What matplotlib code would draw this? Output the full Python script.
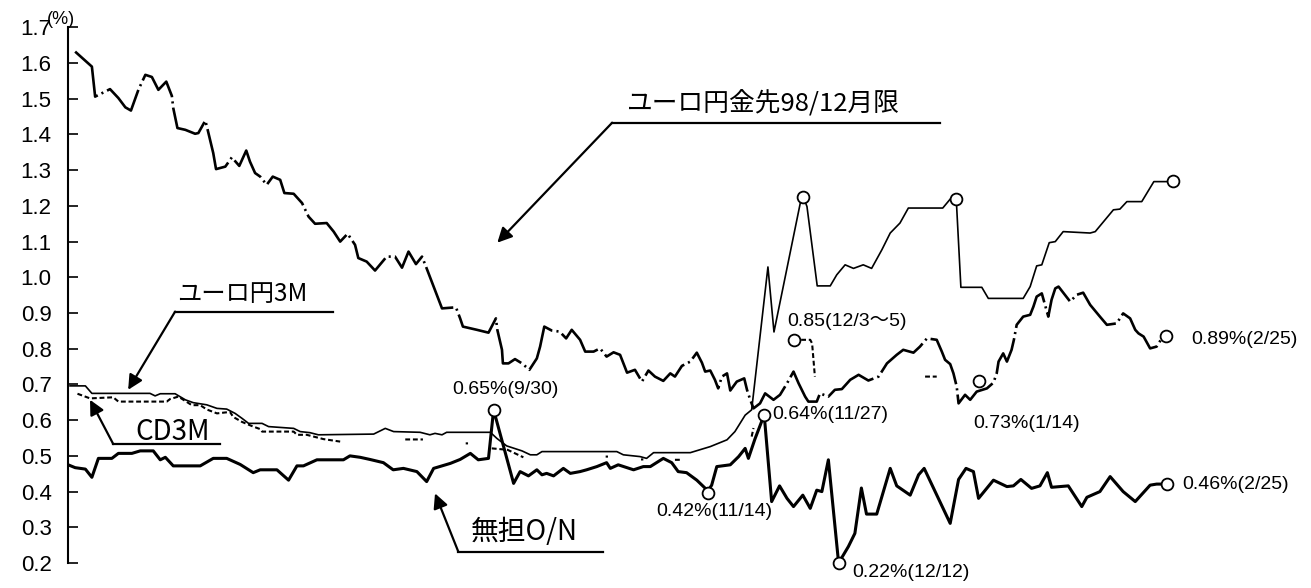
import numpy as np
import matplotlib.pyplot as plt

plt.rcParams['font.family'] = ['Liberation Sans', 'Noto Sans CJK JP', 'DejaVu Sans']
plt.rcParams['lines.scale_dashes'] = False

nan = np.nan

# x = calendar days since 1997-07-01, y = rate (%)
fut_days = [1.5, 3.3, 5.1, 5.4, 5.8, 9.0, 10.8, 12.3, 13.5, 15.1,
            16.6, 18.0, 19.4, 21.1, 22.3, 22.6, 23.5, 25.2, 27.3, 28.0,
            29.5, 30.0, 31.2, 31.8, 33.8, 35.2, 36.8, 38.3, 39.1, 40.2,
            41.3, 42.7, 44.0, 45.6, 46.5, 48.5, 50.3, 51.7, 53.1, 55.6,
            57.1, 58.5, 60.1, 61.7, 62.4, 64.2, 66.0, 68.5, 70.3, 71.8,
            73.2, 74.8, 76.1, 77.1, 78.6, 80.4, 83.4, 84.3, 84.9, 87.9,
            90.4, 92.0, 92.3, 93.3, 93.5, 94.7, 96.1, 97.6, 99.2, 100.8,
            101.5, 102.4, 104.0, 105.7, 107.1, 108.3, 110.1, 111.2, 113.0, 114.4,
            115.8, 117.3, 118.7, 120.2, 121.9, 123.4, 124.8, 126.2, 128.0, 129.5,
            130.5, 132.0, 133.8, 135.2, 136.3, 137.0, 138.1, 139.1, 139.8, 140.6,
            141.7, 142.4, 143.8, 145.4, 146.0, 146.7, 147.4, 148.8, 149.9, 151.7,
            153.1, 154.6, 156.0, 157.1, 158.5, 159.2, 161.0, 161.7, 163.5, 164.9,
            166.4, 168.2, 170.0, 172.1, 174.3, 176.1, 178.2, 179.6, 181.8, 183.2,
            184.7, 186.8, 187.9, 188.6, 189.7, 190.4, 191.1, 191.5, 192.9, 194.0,
            195.4, 197.6, 199.0, 199.7, 200.1, 201.1, 201.9, 202.9, 203.4, 204.0,
            205.4, 206.9, 207.6, 208.3, 209.4, 210.8, 211.5, 212.3, 213.0, 215.5,
            216.9, 218.3, 219.8, 221.9, 223.4, 225.5, 226.9, 228.4, 229.5, 230.2,
            231.3, 232.7, 234.1, 235.2, 236.1]
fut_vals = [1.632, 1.611, 1.590, 1.553, 1.506, 1.527, 1.502, 1.476, 1.467, 1.525,
            1.567, 1.561, 1.525, 1.548, 1.508, 1.474, 1.418, 1.413, 1.402, 1.404,
            1.439, 1.413, 1.348, 1.303, 1.310, 1.336, 1.312, 1.355, 1.324, 1.292,
            1.282, 1.259, 1.282, 1.273, 1.236, 1.234, 1.208, 1.170, 1.150, 1.152,
            1.128, 1.100, 1.122, 1.091, 1.054, 1.044, 1.019, 1.058, 1.058, 1.027,
            1.072, 1.037, 1.058, 1.025, 0.974, 0.913, 0.916, 0.885, 0.862, 0.853,
            0.845, 0.885, 0.853, 0.797, 0.759, 0.759, 0.771, 0.759, 0.741, 0.773,
            0.806, 0.862, 0.851, 0.848, 0.829, 0.853, 0.825, 0.792, 0.792, 0.801,
            0.778, 0.790, 0.783, 0.733, 0.741, 0.708, 0.739, 0.722, 0.710, 0.731,
            0.722, 0.752, 0.764, 0.789, 0.761, 0.736, 0.739, 0.713, 0.689, 0.722,
            0.731, 0.683, 0.708, 0.717, 0.685, 0.657, 0.633, 0.647, 0.675, 0.657,
            0.671, 0.703, 0.736, 0.703, 0.666, 0.652, 0.652, 0.675, 0.666, 0.685,
            0.687, 0.713, 0.727, 0.711, 0.722, 0.759, 0.783, 0.797, 0.789, 0.806,
            0.829, 0.825, 0.792, 0.769, 0.757, 0.731, 0.694, 0.647, 0.671, 0.657,
            0.680, 0.689, 0.705, 0.731, 0.764, 0.787, 0.764, 0.797, 0.825, 0.867,
            0.890, 0.895, 0.918, 0.946, 0.955, 0.890, 0.937, 0.969, 0.974, 0.932,
            0.951, 0.957, 0.923, 0.890, 0.867, 0.871, 0.899, 0.885, 0.853, 0.843,
            0.834, 0.801, 0.806, 0.829, 0.836]

e3m_days = [0.4, 3.7, 5.1, 17.6, 18.7, 19.8, 23.0, 25.2, 26.9, 29.8,
            32.0, 34.1, 35.9, 37.4, 38.8, 41.7, 43.1, 48.5, 49.9, 52.0,
            53.8, 65.7, 68.2, 70.0, 75.7, 77.8, 78.9, 80.4, 81.4, 90.8,
            92.2, 94.3, 97.6, 99.4, 100.8, 101.9, 118.0, 119.4, 123.0, 124.4,
            125.9, 133.8, 138.1, 141.7, 143.4, 145.6, 147.0, 150.5, 151.8, 157.6,
            158.1, 158.9, 161.1, 163.9, 165.3, 167.1, 168.9, 171.0, 172.8, 175.0,
            176.8, 178.9, 180.7, 188.1, 189.7, 191.0, 192.0, 196.5, 197.9, 205.4,
            206.9, 208.3, 209.4, 211.0, 212.3, 214.0, 219.8, 220.9, 224.8, 226.2,
            227.7, 230.9, 233.5, 236.2, 237.6]
e3m_vals = [0.696, 0.696, 0.675, 0.675, 0.668, 0.674, 0.674, 0.657, 0.649, 0.643,
            0.633, 0.631, 0.619, 0.605, 0.591, 0.591, 0.582, 0.577, 0.568, 0.565,
            0.559, 0.561, 0.577, 0.568, 0.566, 0.559, 0.563, 0.559, 0.566, 0.566,
            0.549, 0.528, 0.514, 0.503, 0.503, 0.512, 0.512, 0.503, 0.498, 0.493,
            0.509, 0.509, 0.526, 0.545, 0.568, 0.614, 0.629, 1.029, 0.847, 1.217,
            1.226, 1.198, 0.976, 0.976, 1.007, 1.035, 1.025, 1.035, 1.025, 1.077,
            1.124, 1.152, 1.194, 1.194, 1.219, 1.220, 0.972, 0.972, 0.941, 0.941,
            0.974, 1.032, 1.035, 1.097, 1.100, 1.128, 1.124, 1.128, 1.189, 1.191,
            1.212, 1.212, 1.268, 1.268, 1.270]

cd_days = [2.0, 4.7, 9.7, 10.8, 21.2, 21.9, 23.7, 26.6, 28.4, 29.8,
           31.2, 32.0, 34.8, 35.5, 37.4, 39.8, 41.3, 41.7, 48.5, 49.2,
           51.3, 54.9, 58.5, nan, 72.5, 76.3, nan, 85.5, 86.0, nan,
           91.1, 94.5, 97.9, nan, 115.6, 116.1, nan, 123.2, 123.7, nan,
           130.5, 131.6, nan, 147.0, 147.4, nan, 156.0, 159.6, 160.0, 160.6,
           nan, 184.3, 186.8]
cd_vals = [0.674, 0.661, 0.664, 0.652, 0.652, 0.659, 0.666, 0.642, 0.642, 0.630,
           0.623, 0.619, 0.623, 0.609, 0.595, 0.582, 0.575, 0.568, 0.568, 0.559,
           0.559, 0.547, 0.540, nan, 0.546, 0.546, nan, 0.535, 0.535, nan,
           0.521, 0.517, 0.496, nan, 0.498, 0.498, nan, 0.490, 0.490, nan,
           0.489, 0.489, nan, 0.554, 0.578, nan, 0.825, 0.825, 0.815, 0.722,
           nan, 0.722, 0.722]

on_days = [0.0, 1.5, 3.7, 5.1, 6.5, 9.4, 10.8, 13.7, 15.5, 18.3,
           19.8, 20.9, 22.6, 28.4, 31.2, 34.1, 37.0, 39.8, 41.3, 44.9,
           47.4, 49.2, 50.6, 53.5, 59.2, 60.6, 62.8, 64.9, 67.8, 69.9,
           72.1, 75.0, 77.1, 78.6, 82.2, 84.3, 86.5, 88.2, 90.4, 91.5,
           95.8, 97.2, 99.0, 100.8, 101.9, 102.9, 104.4, 106.5, 108.0, 110.1,
           111.5, 113.7, 115.8, 116.6, 118.3, 121.6, 123.7, 125.2, 128.0, 129.8,
           131.2, 133.0, 135.2, 137.6, 138.4, 139.5, 142.4, 144.2, 145.6, 146.3,
           147.7, 149.7, 151.3, 153.0, 154.6, 156.0, 158.0, 159.6, 161.0, 162.1,
           163.5, 165.7, 167.8, 169.2, 170.6, 171.7, 173.9, 176.8, 178.2, 181.1,
           182.9, 184.1, 189.7, 191.5, 193.1, 194.7, 195.8, 199.0, 201.9, 203.3,
           204.9, 207.2, 209.0, 210.6, 211.5, 215.1, 218.0, 219.1, 221.9, 224.1,
           226.9, 229.5, 232.7, 234.1, 236.3]
on_vals = [0.475, 0.467, 0.463, 0.440, 0.493, 0.493, 0.507, 0.507, 0.514, 0.514,
           0.489, 0.496, 0.472, 0.472, 0.493, 0.493, 0.476, 0.453, 0.461, 0.461,
           0.432, 0.472, 0.472, 0.489, 0.489, 0.500, 0.496, 0.490, 0.481, 0.461,
           0.465, 0.456, 0.428, 0.465, 0.479, 0.490, 0.507, 0.489, 0.493, 0.629,
           0.423, 0.456, 0.444, 0.461, 0.447, 0.451, 0.444, 0.465, 0.451, 0.456,
           0.461, 0.470, 0.481, 0.465, 0.475, 0.461, 0.470, 0.470, 0.493, 0.481,
           0.456, 0.453, 0.432, 0.402, 0.418, 0.470, 0.475, 0.498, 0.521, 0.493,
           0.547, 0.615, 0.372, 0.416, 0.381, 0.358, 0.390, 0.353, 0.404, 0.400,
           0.489, 0.200, 0.246, 0.283, 0.410, 0.337, 0.337, 0.465, 0.416, 0.390,
           0.447, 0.465, 0.311, 0.434, 0.465, 0.456, 0.381, 0.432, 0.414, 0.416,
           0.434, 0.409, 0.416, 0.453, 0.412, 0.416, 0.358, 0.384, 0.400, 0.442,
           0.400, 0.372, 0.418, 0.421, 0.421]

# circled points
mark_days = [91.5, 137.7, 149.7, 165.7, 236.3, 158.1, 191.0, 237.6, 156.0, 195.8, 236.1]
mark_vals = [0.629, 0.397, 0.615, 0.200, 0.421, 1.226, 1.220, 1.270, 0.825, 0.711, 0.836]

# value notes: text, x, y, ha
notes = [("0.65%(9/30)", 94.0, 0.685, "center"),
         ("0.42%(11/14)", 138.9, 0.343, "center"),
         ("0.64%(11/27)", 151.4, 0.615, "left"),
         ("0.85(12/3～5)", 154.6, 0.875, "left"),
         ("0.73%(1/14)", 206.2, 0.592, "center"),
         ("0.89%(2/25)", 241.5, 0.825, "left"),
         ("0.46%(2/25)", 239.6, 0.419, "left"),
         ("0.22%(12/12)", 168.6, 0.173, "left")]

# series labels: text, text pos, underline (x0, x1, y), arrow tip, size
callouts = [("ユーロ円金先98/12月限", (149.5, 1.486), (117.0, 187.5, 1.433), (92.3, 1.097), 18.5),
            ("ユーロ円3M", (37.5, 0.954), (23.0, 57.0, 0.904), (12.9, 0.685), 17.5),
            ("CD3M", (22.5, 0.566), (9.7, 32.7, 0.533), (4.7, 0.657), 20),
            ("無担O/N", (98.1, 0.288), (83.9, 115.1, 0.232), (78.9, 0.395), 20)]

fig = plt.figure(figsize=(13.11, 5.88), dpi=100)
ax = fig.add_axes([0.052, 0.0425, 0.948, 0.911])

ax.plot(fut_days, fut_vals, color='black', lw=1.9, linestyle=(0, (40, 3, 1.5, 3)))
ax.plot(e3m_days, e3m_vals, color='black', lw=1.2)
ax.plot(cd_days, cd_vals, color='black', lw=1.5, linestyle=(0, (3.5, 2)))
ax.plot(on_days, on_vals, color='black', lw=2.2)
ax.plot(mark_days, mark_vals, linestyle='none', marker='o', ms=8.5,
        mfc='white', mec='black', mew=1.3, zorder=5, clip_on=False)

for txt, x, y, ha in notes:
    ax.text(x, y, txt, ha=ha, va='center', fontsize=14, clip_on=False)

for txt, (tx, ty), (x0, x1, uy), tip, fs in callouts:
    ax.text(tx, ty, txt, ha='center', va='center', fontsize=fs,
            family=['Noto Sans CJK JP', 'DejaVu Sans'])
    ax.plot([x0, x1], [uy, uy], color='black', lw=1.6)
    ax.annotate('', xy=tip, xytext=(x0, uy),
                arrowprops=dict(arrowstyle='-|>', color='black', lw=1.6,
                                mutation_scale=22, shrinkA=0, shrinkB=0))

ax.text(-1.5, 1.721, "(%)", ha='center', va='center', fontsize=13, clip_on=False)

ax.set_xlim(0, 267.3)
ax.set_ylim(0.2, 1.7)
ax.set_yticks(np.arange(0.2, 1.71, 0.1))
ax.set_yticklabels([f"{v:.1f}" for v in np.arange(0.2, 1.71, 0.1)], fontsize=16)
ax.tick_params(axis='y', direction='in', length=7, width=1.2, pad=12)
ax.set_xticks([])
for s in ['top', 'right', 'bottom']:
    ax.spines[s].set_visible(False)
ax.spines['left'].set_linewidth(1.5)

plt.savefig("out.png", dpi=100)
